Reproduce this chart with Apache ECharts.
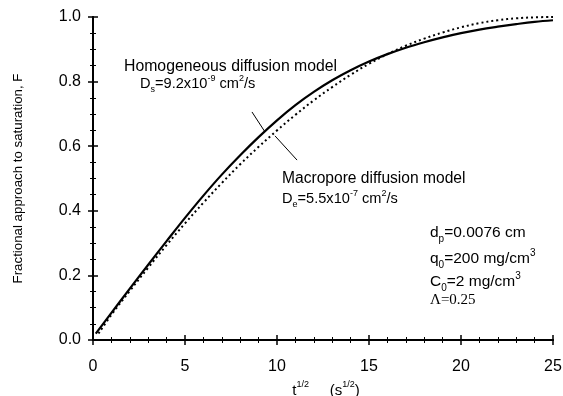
<!DOCTYPE html>
<html>
<head>
<meta charset="utf-8">
<script src="https://cdn.jsdelivr.net/npm/echarts@6/dist/echarts.min.js"></script>
<style>
  html, body { margin: 0; padding: 0; background: #fff; }
  #chart { width: 563px; height: 396px; }
</style>
</head>
<body>
<div id="chart"></div>
<script>
// sqrt(t) values, s^1/2
const homogeneousX = [0.15, 1, 2, 3, 4, 5, 6, 7, 8, 9, 10, 11, 12, 13, 14, 15, 16, 17, 18, 19, 20, 21, 22, 23, 24, 25];
// fractional approach to saturation, homogeneous diffusion model
const homogeneousF = [0.02, 0.084, 0.159, 0.233, 0.306, 0.378, 0.447, 0.512, 0.572, 0.628, 0.680, 0.727, 0.768, 0.804, 0.835, 0.862, 0.885, 0.905, 0.922, 0.937, 0.950, 0.961, 0.970, 0.978, 0.985, 0.990];

const macroporeX = [0.3, 1, 2, 3, 4, 5, 6, 7, 8, 9, 10, 11, 12, 13, 14, 15, 16, 17, 18, 19, 20, 21, 22, 23, 24, 25];
// fractional approach to saturation, macropore diffusion model
const macroporeF = [0.02, 0.078, 0.152, 0.224, 0.294, 0.361, 0.425, 0.486, 0.544, 0.598, 0.649, 0.697, 0.742, 0.783, 0.821, 0.855, 0.885, 0.911, 0.933, 0.952, 0.968, 0.981, 0.990, 0.996, 0.999, 1.0];

// leader lines pointing from the labels to each curve (data coordinates)
const homogeneousLeader = [[8.64, 0.706], [9.35, 0.644]];
const macroporeLeader = [[9.89, 0.632], [11.09, 0.557]];

const xTicks = { min: 0, max: 25, interval: 5 };
const yTicks = { min: 0, max: 1, interval: 0.2 };

const FONT = "'Liberation Sans', Arial, sans-serif";
const INK = '#000';

function zip(xs, ys) { return xs.map((x, i) => [x, ys[i]]); }

function richSet(size) {
  const small = Math.round(size * 0.62);
  const lh = Math.round(size * 1.4);
  return {
    base: { fontSize: size, fontFamily: FONT, color: INK, lineHeight: lh, verticalAlign: 'middle' },
    sup: { fontSize: small, fontFamily: FONT, color: INK, lineHeight: lh, verticalAlign: 'top' },
    sub: { fontSize: small, fontFamily: FONT, color: INK, lineHeight: lh, verticalAlign: 'bottom' }
  };
}

function frameAxis(pos, isX, showLabels, extra) {
  const t = isX ? xTicks : yTicks;
  return Object.assign({
    type: 'value', position: pos, min: t.min, max: t.max, interval: t.interval,
    axisLine: { show: true, lineStyle: { color: INK, width: 2 } },
    axisTick: { show: true, inside: true, length: 5, lineStyle: { color: INK, width: 1.5 } },
    minorTick: { show: true, splitNumber: isX ? 5 : 4, length: 3, lineStyle: { color: INK, width: 1 } },
    splitLine: { show: false },
    axisLabel: {
      show: showLabels, color: INK, fontSize: 16, fontFamily: FONT,
      margin: isX ? 19 : 12,
      formatter: isX ? (v => String(v)) : (v => v.toFixed(1))
    }
  }, extra || {});
}

const chart = echarts.init(document.getElementById('chart'), null, { renderer: 'canvas' });

const option = {
  animation: false,
  backgroundColor: '#fff',
  grid: { left: 93, right: 10, top: 17, bottom: 56, containLabel: false, outerBoundsMode: 'none' },
  xAxis: [
    frameAxis('bottom', true, true, {
      name: '{base|t}{sup|1/2}{base|     (s}{sup|1/2}{base|)}',
      nameLocation: 'middle', nameGap: 36,
      nameTextStyle: { rich: richSet(15), padding: [0, 0, 0, 6] }
    }),
    frameAxis('top', true, false)
  ],
  yAxis: [
    frameAxis('left', false, true, {
      name: 'Fractional approach to saturation, F',
      nameLocation: 'middle', nameGap: 68,
      nameTextStyle: { color: INK, fontSize: 13.3, fontFamily: FONT }
    }),
    frameAxis('right', false, false)
  ],
  series: [
    {
      name: 'Homogeneous diffusion model', type: 'line',
      data: zip(homogeneousX, homogeneousF),
      smooth: 0.4, showSymbol: false,
      lineStyle: { color: INK, width: 2.2 },
      markLine: {
        silent: true, symbol: 'none', label: { show: false },
        lineStyle: { color: INK, width: 1, type: 'solid' },
        data: [[{ coord: homogeneousLeader[0] }, { coord: homogeneousLeader[1] }]]
      }
    },
    {
      name: 'Macropore diffusion model', type: 'line',
      data: zip(macroporeX, macroporeF),
      smooth: 0.4, showSymbol: false,
      lineStyle: { color: INK, width: 2, type: [2, 3] },
      markLine: {
        silent: true, symbol: 'none', label: { show: false },
        lineStyle: { color: INK, width: 1, type: 'solid' },
        data: [[{ coord: macroporeLeader[0] }, { coord: macroporeLeader[1] }]]
      }
    }
  ],
  graphic: [
    { type: 'text', left: 124, top: 59,
      style: { text: 'Homogeneous diffusion model', font: '15.8px ' + FONT, fill: INK } },
    { type: 'text', left: 140, top: 74,
      style: { text: '{base|D}{sub|s}{base|=9.2x10}{sup|-9}{base| cm}{sup|2}{base|/s}', rich: richSet(14.6) } },
    { type: 'text', left: 282, top: 171,
      style: { text: 'Macropore diffusion model', font: '15.6px ' + FONT, fill: INK } },
    { type: 'text', left: 282, top: 189,
      style: { text: '{base|D}{sub|e}{base|=5.5x10}{sup|-7}{base| cm}{sup|2}{base|/s}', rich: richSet(14.6) } },
    { type: 'text', left: 430, top: 225,
      style: { text: '{base|d}{sub|p}{base|=0.0076 cm}', rich: richSet(15.5) } },
    { type: 'text', left: 430, top: 248,
      style: { text: '{base|q}{sub|0}{base|=200 mg/cm}{sup|3}', rich: richSet(15.5) } },
    { type: 'text', left: 430, top: 271,
      style: { text: '{base|C}{sub|0}{base|=2 mg/cm}{sup|3}', rich: richSet(15.5) } },
    { type: 'text', left: 430, top: 293,
      style: { text: 'Λ=0.25', font: "15px 'Liberation Serif', 'Times New Roman', serif", fill: INK } }
  ]
};

chart.setOption(option);
</script>
</body>
</html>
